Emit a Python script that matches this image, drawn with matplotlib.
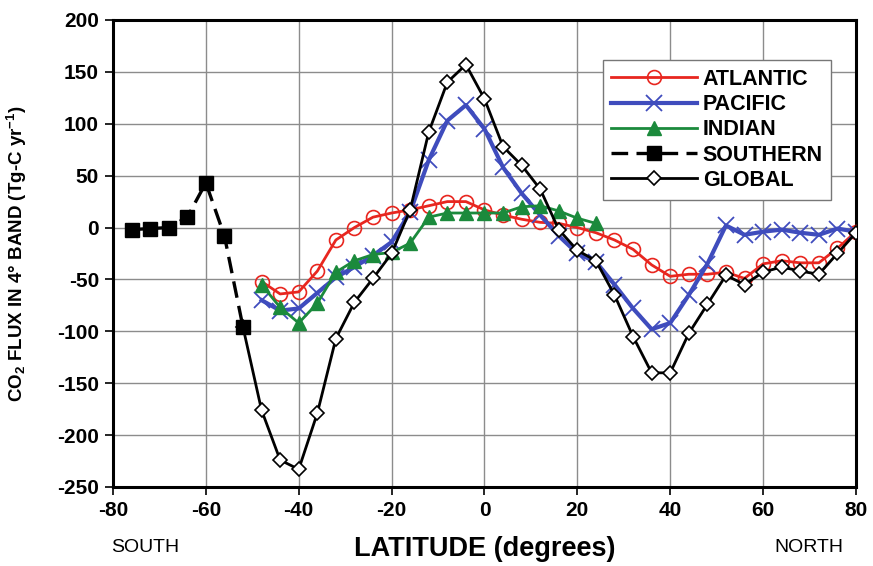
import matplotlib
matplotlib.use('Agg')
import matplotlib.pyplot as plt

plt.rcParams['font.family'] = ['Liberation Sans', 'DejaVu Sans']
plt.rcParams['axes.unicode_minus'] = False
plt.rcParams['mathtext.fontset'] = 'custom'
plt.rcParams['mathtext.rm'] = 'Liberation Sans:bold'
plt.rcParams['mathtext.it'] = 'Liberation Sans:bold'
plt.rcParams['mathtext.bf'] = 'Liberation Sans:bold'

# latitude band centres (degrees)
lat_south = [-76, -72, -68, -64, -60, -56, -52]
southern = [-2, -1, 0, 10, 43, -8, -96]

lat_atl = list(range(-48, 84, 4))
atlantic = [-52, -64, -62, -42, -12, 0, 10, 14, 17, 21, 25, 25, 17, 12, 8, 5, 4,
            0, -5, -12, -21, -36, -47, -45, -45, -43, -49, -35, -32, -34, -34, -20, -4]

lat_pac = list(range(-48, 84, 4))
pacific = [-70, -80, -78, -63, -48, -38, -27, -14, 15, 65, 103, 118, 95, 58, 33, 12, -8,
           -25, -33, -55, -78, -98, -92, -65, -35, 2, -7, -4, -2, -5, -7, -1, -4]

lat_ind = list(range(-48, 28, 4))
indian = [-55, -77, -92, -73, -43, -32, -26, -24, -15, 10, 14, 14, 14, 14, 20, 21, 16, 9, 4]

lat_glob = list(range(-52, 84, 4))
global_ = [-96, -176, -224, -233, -179, -107, -72, -49, -25, 17, 92, 140, 157, 124, 78, 60,
           37, -2, -22, -32, -65, -105, -140, -140, -102, -74, -46, -55, -43, -38, -42,
           -45, -25, -5]

fig = plt.figure(figsize=(8.73, 5.66), dpi=100)
ax = fig.add_axes([0.1294, 0.1396, 0.8511, 0.8251])

ax.plot(lat_atl, atlantic, color='#e8261f', lw=2, marker='o', ms=10,
        mfc='none', mec='#e8261f', mew=1.2, label='ATLANTIC', zorder=3)
ax.plot(lat_pac, pacific, color='#3f4cbd', lw=3, marker='x', ms=12,
        mew=1.3, label='PACIFIC', zorder=4)
ax.plot(lat_ind, indian, color='#1b8a3c', lw=2, marker='^', ms=10,
        label='INDIAN', zorder=5)
ax.plot(lat_glob, global_, color='black', lw=2, marker='D', ms=7.5,
        mfc='white', mec='black', mew=1.2, zorder=6)
ax.plot(lat_south, southern, color='black', lw=2.4, ls=(0, (5, 2.5)), marker='s',
        ms=10, label='SOUTHERN', zorder=7)
# legend handle for global
ax.plot([], [], color='black', lw=2, marker='D', ms=7.5, mfc='white', mec='black',
        mew=1.2, label='GLOBAL')

ax.set_xlim(-80, 80)
ax.set_ylim(-250, 200)
ax.set_xticks(range(-80, 81, 20))
ax.set_yticks(range(-250, 201, 50))
ax.grid(True, color='#8c8c8c', lw=1)
ax.set_axisbelow(True)
for s in ax.spines.values():
    s.set_linewidth(2.2)
ax.tick_params(direction='out', length=6, width=1.2, labelsize=15, pad=4)
for lab in ax.get_xticklabels() + ax.get_yticklabels():
    lab.set_fontweight('bold')

ax.set_ylabel(r'CO$_2$ FLUX IN 4° BAND (Tg-C yr$^{-1}$)', fontsize=13.5,
              fontweight='bold')
ax.yaxis.set_label_coords(-0.113, 0.5)
ax.set_xlabel('LATITUDE (degrees)', fontsize=19.5, fontweight='bold')
ax.xaxis.set_label_coords(0.5, -0.104)
fig.text(0.166, 0.032, 'SOUTH', fontsize=14, ha='center', va='center')
fig.text(0.926, 0.032, 'NORTH', fontsize=14, ha='center', va='center')

leg = ax.legend(loc='upper left', bbox_to_anchor=(0.659, 0.914), fancybox=False,
                edgecolor='#777777', framealpha=1, handlelength=4.0,
                prop={'weight': 'bold', 'size': 15.5}, borderpad=0.4,
                labelspacing=0.2, handletextpad=0.25, borderaxespad=0)
leg.get_frame().set_linewidth(1)

fig.savefig('out.png', dpi=100)
